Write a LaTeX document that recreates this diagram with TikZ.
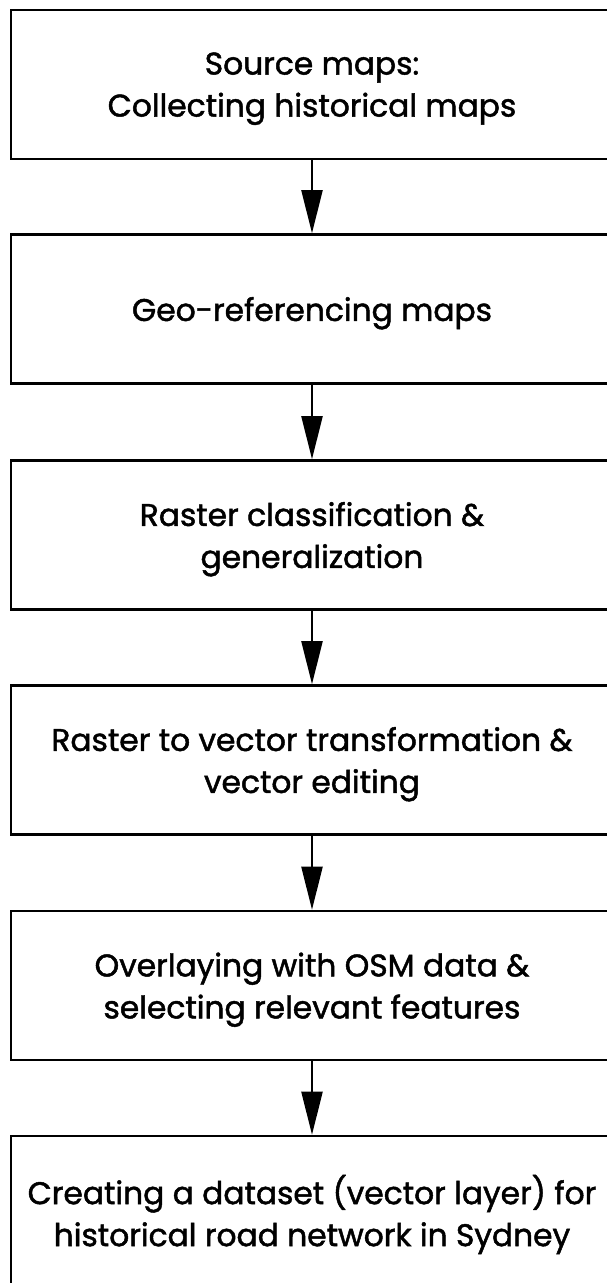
\documentclass[tikz,border=0pt]{standalone}
\usepackage{fontspec}
\setmainfont{Poppins}[FakeBold=1.5]
\usetikzlibrary{arrows.meta}
\begin{document}
\begin{tikzpicture}[x=1pt,y=-1pt,
  stepbox/.style={draw=black,line width=2.6pt,rectangle,minimum width=602pt,minimum height=149pt,
    align=center,inner sep=0pt,text depth=0pt,font=\fontsize{31.3}{42}\selectfont},
  flow/.style={line width=2.2pt,-{Triangle[length=43pt,width=21pt]}}]
\useasboundingbox (0,0) rectangle (606,1283);
\fill[white] (0,0) rectangle (606,1283);
\node[stepbox] (b1) at (312,84.5) {Source maps:\\Collecting historical maps};
\node[stepbox] (b2) at (312,309) {Geo-referencing maps};
\node[stepbox] (b3) at (312,535) {Raster classification \&\\generalization};
\node[stepbox] (b4) at (312,760) {Raster to vector transformation \&\\vector editing};
\node[stepbox] (b5) at (312,985.5) {Overlaying with OSM data \&\\selecting relevant features};
\node[stepbox] (b6) at (312,1210.5) {Creating a dataset (vector layer) for\\historical road network in Sydney};
\draw[flow] (b1) -- (b2);
\draw[flow] (b2) -- (b3);
\draw[flow] (b3) -- (b4);
\draw[flow] (b4) -- (b5);
\draw[flow] (b5) -- (b6);
\end{tikzpicture}
\end{document}
